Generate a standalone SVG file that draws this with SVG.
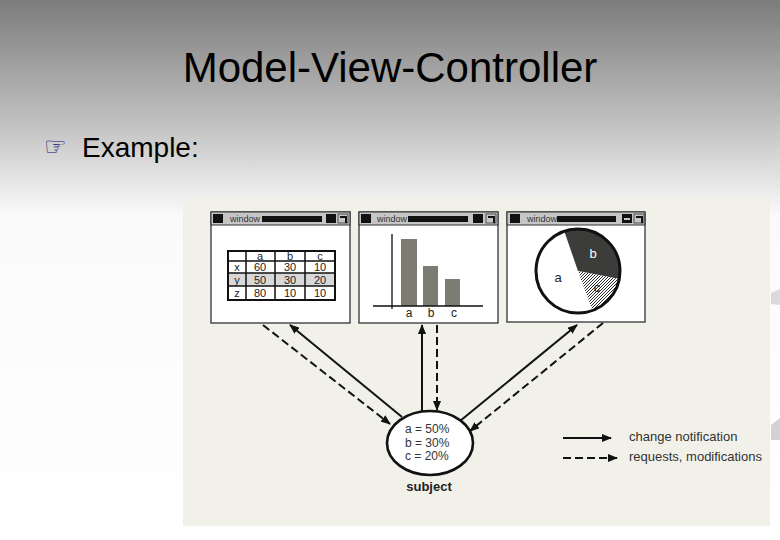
<svg xmlns="http://www.w3.org/2000/svg" width="780" height="540" viewBox="0 0 780 540">
<defs>
<linearGradient id="bg" x1="0" y1="0" x2="0" y2="1">
<stop offset="0" stop-color="#7c7c7c"/>
<stop offset="0.2" stop-color="#b8b8b8"/>
<stop offset="0.4" stop-color="#fafafa"/>
<stop offset="1" stop-color="#ffffff"/>
</linearGradient>
<pattern id="hatch" patternUnits="userSpaceOnUse" width="3" height="3">
<rect width="3" height="3" fill="#ffffff"/>
<path d="M0,3 L3,0" stroke="#111" stroke-width="0.9"/>
</pattern>
<marker id="ah" markerUnits="userSpaceOnUse" markerWidth="10" markerHeight="8" refX="9" refY="4" orient="auto">
<path d="M0,0 L10,4 L0,8 Z" fill="#111"/>
</marker>
</defs>
<style>
.win{fill:#ffffff;stroke:#333;stroke-width:1.3}
.tbar{fill:#c6c6c6;stroke:#333;stroke-width:1}
.blk{fill:#111}
.wt{font-family:"Liberation Sans",Arial,sans-serif;font-size:9px;fill:#333}
.max{fill:#c6c6c6;stroke:#333;stroke-width:0.8}
.cell{font-family:"Liberation Sans",Arial,sans-serif;font-size:11px;fill:#222;text-anchor:middle}
.tl{stroke:#111;stroke-width:1.5;fill:none}
.bar{fill:#7c7c72}
.solid{stroke:#111;stroke-width:2;fill:none;marker-end:url(#ah)}
.dash{stroke:#111;stroke-width:2;fill:none;stroke-dasharray:8,4;marker-end:url(#ah)}
.lbl{font-family:"Liberation Sans",Arial,sans-serif;font-size:13px;fill:#333}
.sub{font-family:"Liberation Sans",Arial,sans-serif;font-size:12px;fill:#333}
</style>
<rect width="780" height="540" fill="url(#bg)"/>
<polygon points="771,293 780,289 780,305 771,304" fill="#dadada"/>
<polygon points="771,425 780,418 780,440 771,440" fill="#d2d2d2"/>
<text x="390" y="82" text-anchor="middle" font-family="'Liberation Sans',Arial,sans-serif" font-size="42" fill="#000">Model-View-Controller</text>
<text x="44" y="155" font-family="'DejaVu Sans',sans-serif" font-size="25" fill="#101070">☞</text>
<text x="82" y="157" font-family="'Liberation Sans',Arial,sans-serif" font-size="28" fill="#000">Example:</text>
<rect x="183" y="198" width="587" height="328" fill="#f1f1ea"/>

<g id="window-table">
<rect class="win" x="211" y="212" width="139" height="111"/>
<rect class="tbar" x="211" y="212" width="139" height="13"/>
<rect class="blk" x="213" y="214" width="10" height="9"/>
<text class="wt" x="230" y="222">window</text>
<rect class="blk" x="262" y="216" width="60" height="6"/>
<rect class="blk" x="326" y="214" width="10" height="9"/>
<rect class="max" x="338" y="214" width="10" height="9"/>
<path d="M340,217 H346 V223" stroke="#111" stroke-width="2" fill="none"/>
<rect x="228" y="273" width="107" height="13" fill="#d8d8d8"/>
<rect x="228" y="251" width="107" height="49" fill="none" stroke="#111" stroke-width="2"/>
<path class="tl" d="M228,261 H335 M228,273 H335 M228,286 H335 M246,251 V300 M275,251 V300 M305,251 V300"/>
<text class="cell" x="260" y="259.5">a</text>
<text class="cell" x="290" y="259.5">b</text>
<text class="cell" x="320" y="259.5">c</text>
<text class="cell" x="237" y="271">x</text>
<text class="cell" x="260" y="271">60</text>
<text class="cell" x="290" y="271">30</text>
<text class="cell" x="320" y="271">10</text>
<text class="cell" x="237" y="283.5">y</text>
<text class="cell" x="260" y="283.5">50</text>
<text class="cell" x="290" y="283.5">30</text>
<text class="cell" x="320" y="283.5">20</text>
<text class="cell" x="237" y="297">z</text>
<text class="cell" x="260" y="297">80</text>
<text class="cell" x="290" y="297">10</text>
<text class="cell" x="320" y="297">10</text>
</g>

<g id="window-bar">
<rect class="win" x="359" y="212" width="139" height="111"/>
<rect class="tbar" x="359" y="212" width="139" height="13"/>
<rect class="blk" x="361" y="214" width="10" height="9"/>
<text class="wt" x="377" y="222">window</text>
<rect class="blk" x="408" y="216" width="60" height="6"/>
<rect class="blk" x="473" y="214" width="10" height="9"/>
<rect class="max" x="486" y="214" width="10" height="9"/>
<path d="M488,217 H494 V223" stroke="#111" stroke-width="2" fill="none"/>
<rect class="bar" x="401" y="239" width="16" height="67"/>
<rect class="bar" x="423" y="266" width="15" height="40"/>
<rect class="bar" x="445" y="279" width="15" height="27"/>
<path d="M392,234 V309 M373,306 H483" stroke="#111" stroke-width="1.3" fill="none"/>
<text class="cell" x="409" y="317" style="font-size:12px">a</text>
<text class="cell" x="431" y="317" style="font-size:12px">b</text>
<text class="cell" x="454" y="317" style="font-size:12px">c</text>
</g>

<g id="window-pie">
<rect class="win" x="507" y="212" width="138" height="110"/>
<rect class="tbar" x="507" y="212" width="138" height="13"/>
<rect class="blk" x="510" y="214" width="10" height="9"/>
<text class="wt" x="527" y="222">window</text>
<rect class="blk" x="557" y="216" width="59" height="6"/>
<rect class="blk" x="622" y="214" width="10" height="9"/>
<path d="M624,219 H630" stroke="#fff" stroke-width="1.5"/>
<rect class="max" x="634" y="214" width="10" height="9"/>
<path d="M636,217 H642 V223" stroke="#111" stroke-width="2" fill="none"/>
<circle cx="578" cy="271" r="42" fill="#fff"/>
<path d="M578,271 L564.3,231.3 A42,42 0 0 1 619.2,279 Z" fill="#3c3c3a"/>
<path d="M578,271 L619.2,279 A42,42 0 0 1 592.4,310.5 Z" fill="url(#hatch)"/>
<circle cx="578" cy="271" r="42" fill="none" stroke="#111" stroke-width="3"/>
<text class="cell" x="593" y="258" style="fill:#ffffff;font-size:13px">b</text>
<text class="cell" x="558" y="282" style="font-size:13px">a</text>
<text class="cell" x="597" y="292" style="font-size:13px">c</text>
</g>

<g id="subject">
<ellipse cx="430" cy="443" rx="43" ry="32" fill="#fff" stroke="#111" stroke-width="2.6"/>
<text class="sub" x="405" y="433">a = 50%</text>
<text class="sub" x="405" y="446.5">b = 30%</text>
<text class="sub" x="405" y="460">c = 20%</text>
<text x="429" y="491" text-anchor="middle" font-family="'Liberation Sans',Arial,sans-serif" font-size="13" font-weight="bold" fill="#222">subject</text>
</g>

<g id="connectors">
<line class="solid" x1="402" y1="417" x2="290" y2="325"/>
<line class="dash" x1="263" y1="325" x2="390" y2="424"/>
<line class="solid" x1="422" y1="411" x2="422" y2="325"/>
<line class="dash" x1="437" y1="325" x2="437" y2="410"/>
<line class="solid" x1="460" y1="421" x2="577" y2="325"/>
<line class="dash" x1="603" y1="323" x2="470" y2="431"/>
</g>

<g id="legend">
<line class="solid" x1="563" y1="438" x2="611" y2="438"/>
<line class="dash" x1="563" y1="458" x2="617" y2="458"/>
<text class="lbl" x="629" y="441">change notification</text>
<text class="lbl" x="629" y="461">requests, modifications</text>
</g>
</svg>
